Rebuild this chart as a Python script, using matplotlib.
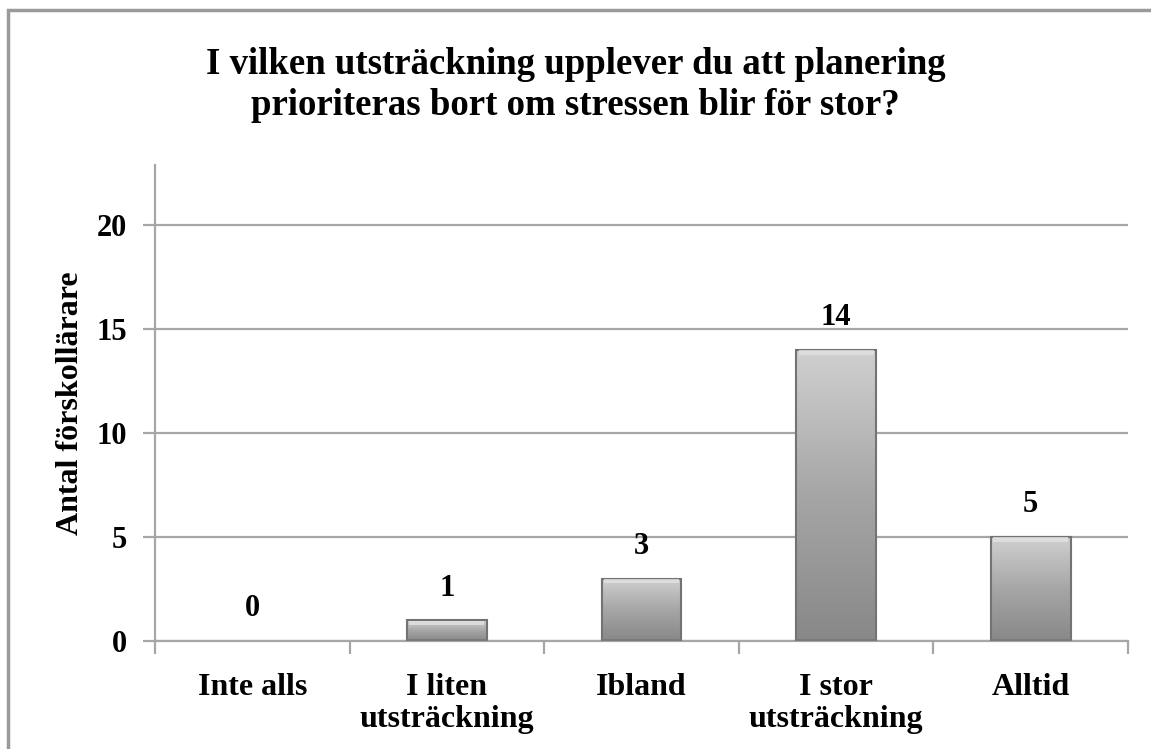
import matplotlib as mpl
mpl.use("agg")
import matplotlib.pyplot as plt
import numpy as np
from matplotlib.patches import Rectangle
from matplotlib.colors import LinearSegmentedColormap

categories = ["Inte alls", "I liten\nutsträckning", "Ibland", "I stor\nutsträckning", "Alltid"]
values = [0, 1, 3, 14, 5]
yticks = [0, 5, 10, 15, 20]
title = "I vilken utsträckning upplever du att planering\nprioriteras bort om stressen blir för stor?"
ylabel = "Antal förskollärare"

plt.rcParams['font.family'] = ['Liberation Serif', 'DejaVu Serif']
plt.rcParams['font.weight'] = 'bold'

W, H = 1151, 749
fig = plt.figure(figsize=(W / 100, H / 100), dpi=100)

# outer chart border (only left/top visible in the crop)
fig.patches.append(Rectangle((8 / W, -0.1), 1.2, 1 - 10 / H + 0.1, transform=fig.transFigure,
                             fill=False, edgecolor="#9a9a9a", linewidth=2.5, zorder=0))

left, right = 155 / W, 1128 / W
bottom, top = 1 - 641 / H, 1 - 165 / H
ax = fig.add_axes([left, bottom, right - left, top - bottom])

ymax = 22.9
ax.set_ylim(0, ymax)
ax.set_xlim(-0.5, len(categories) - 0.5)

ax.set_yticks(yticks)
ax.set_yticklabels([str(t) for t in yticks], fontsize=22, fontweight="bold")
ax.yaxis.grid(True, color="#a6a6a6", linewidth=1.6)
ax.set_axisbelow(True)

ax.set_xticks(range(len(categories)))
ax.set_xticklabels(categories, fontsize=23, fontweight="bold", linespacing=1.15)
ax.tick_params(axis="x", length=0, pad=23)
ax.set_xticks(np.arange(-0.5, len(categories), 1), minor=True)
ax.tick_params(axis="x", which="minor", length=9, width=1.6, color="#a6a6a6", direction="out")
ax.tick_params(axis="y", length=9, width=1.6, color="#a6a6a6", direction="out", pad=11)

for s in ["top", "right"]:
    ax.spines[s].set_visible(False)
for s in ["left", "bottom"]:
    ax.spines[s].set_color("#a6a6a6")
    ax.spines[s].set_linewidth(1.6)

ax.set_ylabel(ylabel, fontsize=23, fontweight="bold", labelpad=8)
fig.text(0.5, 1 - 85 / H, title, ha="center", va="center", fontsize=26.5, fontweight="bold",
         linespacing=1.25)

cmap = LinearSegmentedColormap.from_list("bar", ["#888888", "#a6a6a6", "#d0d0d0"])
bw = 0.41
grad = np.linspace(0, 1, 256).reshape(-1, 1)
for i, v in enumerate(values):
    if v <= 0:
        continue
    x0, x1 = i - bw / 2, i + bw / 2
    ax.imshow(grad, extent=(x0, x1, 0, v), origin="lower", cmap=cmap, aspect="auto", zorder=2,
              interpolation="bilinear")
    # darker edges to give the bevelled look
    ax.add_patch(Rectangle((x0, 0), x1 - x0, v, fill=False, edgecolor="#737373",
                           linewidth=1.5, zorder=3))
    ax.add_patch(Rectangle((x0 + 0.012, v - 0.22), x1 - x0 - 0.024, 0.2, facecolor="#e2e2e2",
                           edgecolor="none", zorder=3, alpha=0.8))
    ax.add_patch(Rectangle((x0, 0), x1 - x0, 0.12, facecolor="#7a7a7a",
                           edgecolor="none", zorder=3))

ax.set_xlim(-0.5, len(categories) - 0.5)
ax.set_ylim(0, ymax)

for i, v in enumerate(values):
    ax.text(i, v + 0.85, str(v), ha="center", va="bottom", fontsize=22, fontweight="bold")

fig.savefig("out.png", dpi=100)
